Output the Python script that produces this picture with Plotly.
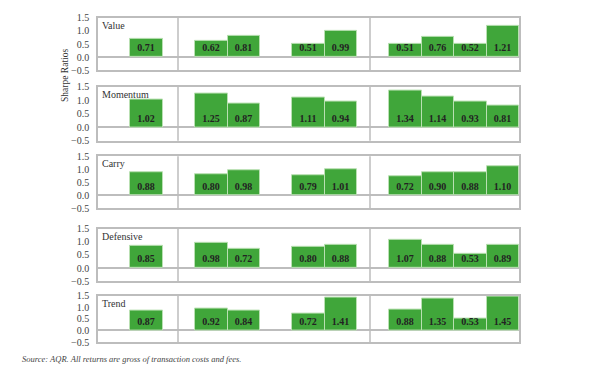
import plotly.graph_objects as go

# page is offset by the default 8px body margin
OFF = 8
W, H = 590 - OFF, 379 - OFF

factors = ["Value", "Momentum", "Carry", "Defensive", "Trend"]
categories = ["A1", "B1", "B2", "C1", "C2", "D1", "D2", "D3", "D4"]
category_order = ["g0", "A1", "g1", "B1", "B2", "g2", "C1", "C2", "g3", "D1", "D2", "D3", "D4"]

value = [0.71, 0.62, 0.81, 0.51, 0.99, 0.51, 0.76, 0.52, 1.21]
momentum = [1.02, 1.25, 0.87, 1.11, 0.94, 1.34, 1.14, 0.93, 0.81]
carry = [0.88, 0.80, 0.98, 0.79, 1.01, 0.72, 0.90, 0.88, 1.10]
defensive = [0.85, 0.98, 0.72, 0.80, 0.88, 1.07, 0.88, 0.53, 0.89]
trend = [0.87, 0.92, 0.84, 0.72, 1.41, 0.88, 1.35, 0.53, 1.45]
series = [value, momentum, carry, defensive, trend]

y_ticks = [1.5, 1.0, 0.5, 0.0, -0.5]
y_tick_labels = ["1.5", "1.0", "0.5", "0.0", "\u22120.5"]

# panel pixel extents on the page (top, bottom)
panels = [(12, 66), (83, 139), (155, 209), (230, 284), (299, 347)]
x_left, x_right = 98, 519
dividers_px = [178, 370]


def px(p):
    return (p - OFF) / W


def py(p):
    return 1 - (p - OFF) / H


GREEN = "#40a63a"
GRID = "#bdbdbd"
FONT = "Liberation Serif"

fig = go.Figure()
layout = dict(
    width=W, height=H, margin=dict(l=0, r=0, t=0, b=0),
    paper_bgcolor="white", plot_bgcolor="white",
    showlegend=False, bargap=0, barmode="overlay",
    uniformtext=dict(minsize=10, mode="show"),
    font=dict(family=FONT, size=10, color="#333"),
)
shapes = []
annotations = []
for i, (name, vals) in enumerate(zip(factors, series)):
    n = i + 1
    xa = "x" if n == 1 else f"x{n}"
    ya = "y" if n == 1 else f"y{n}"
    # spacer trace to fix category order
    fig.add_trace(go.Bar(x=category_order, y=[None] * len(category_order),
                         xaxis=xa, yaxis=ya, hoverinfo="skip"))
    fig.add_trace(go.Bar(
        x=categories, y=vals, xaxis=xa, yaxis=ya,
        marker=dict(color=GREEN, line=dict(color="#b9e0b2", width=1)),
        text=[f"{v:.2f}" for v in vals], textposition="inside",
        insidetextanchor="start", textangle=0,
        textfont=dict(family=FONT, size=10, color="#222", weight="bold"),
        cliponaxis=False,
    ))
    top, bot = panels[i]
    xkey = "xaxis" if n == 1 else f"xaxis{n}"
    ykey = "yaxis" if n == 1 else f"yaxis{n}"
    layout[xkey] = dict(
        domain=[px(x_left), px(x_right)], anchor=ya, type="category",
        categoryorder="array", categoryarray=category_order,
        range=[-0.5, len(category_order) - 0.5],
        showticklabels=False, ticks="", showgrid=False, zeroline=False,
        showline=True, linecolor=GRID, linewidth=1.5, mirror=True, fixedrange=True,
    )
    layout[ykey] = dict(
        domain=[py(bot), py(top)], anchor=xa, range=[-0.5, 1.5],
        tickvals=y_ticks, ticktext=y_tick_labels, ticks="", ticklabelstandoff=5,
        tickfont=dict(family=FONT, size=10, color="#444"),
        showgrid=False, zeroline=True, zerolinecolor=GRID, zerolinewidth=1.5,
        showline=True, linecolor=GRID, linewidth=1.5, mirror=True, fixedrange=True,
    )
    for dx in dividers_px:
        shapes.append(dict(type="line", xref="paper", yref=f"{ya} domain",
                           x0=px(dx), x1=px(dx), y0=0, y1=1,
                           line=dict(color=GRID, width=1.5), layer="above"))
    annotations.append(dict(text=name, xref="paper", yref="paper",
                            x=px(x_left + 2), y=py(top + 8), xanchor="left", yanchor="middle",
                            showarrow=False, font=dict(family=FONT, size=10, color="#333")))

annotations.append(dict(text="Sharpe Ratios", textangle=-90, xref="paper", yref="paper",
                        x=px(65), y=py(72), xanchor="center", yanchor="middle",
                        showarrow=False, font=dict(family=FONT, size=9.5, color="#333")))
annotations.append(dict(text="<i>Source: AQR. All returns are gross of transaction costs and fees.</i>",
                        xref="paper", yref="paper", x=px(20), y=py(365),
                        xanchor="left", yanchor="middle", showarrow=False,
                        font=dict(family=FONT, size=8.5, color="#444")))
layout["shapes"] = shapes
layout["annotations"] = annotations
fig.update_layout(**layout)
fig.write_html("out.html")
